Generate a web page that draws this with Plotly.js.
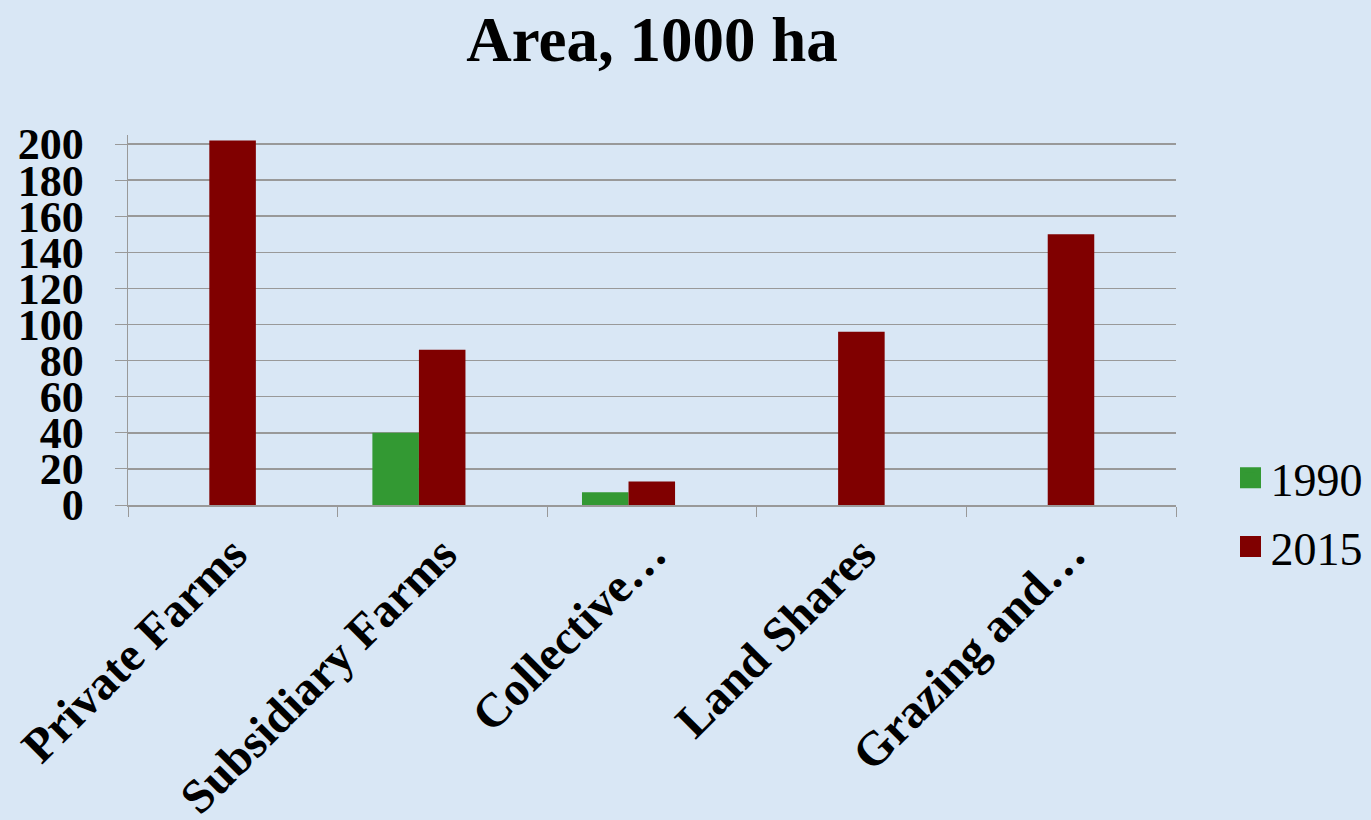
<!DOCTYPE html>
<html>
<head>
<meta charset="utf-8">
<script src="https://cdn.plot.ly/plotly-3.0.1.min.js"></script>
<style>
html,body{margin:0;padding:0;background:#d9e7f5;}
#chart{width:1371px;height:820px;}
</style>
</head>
<body>
<div id="chart"></div>
<script>
var categories = ["Private Farms", "Subsidiary Farms", "Collective\u2026", "Land Shares", "Grazing and\u2026"];
var values1990 = [0, 40, 7, 0, 0];
var values2015 = [202, 86, 13, 96, 150];
var seriesNames = ["1990", "2015"];
var seriesColors = ["#339933", "#800000"];
var yTicks = [0, 20, 40, 60, 80, 100, 120, 140, 160, 180, 200];

var serif = "Liberation Serif, Times New Roman, serif";
var barW = 0.222;

var traces = [
  {type: "bar", name: seriesNames[0], x: categories, y: values1990,
   width: barW, offset: -0.334,
   marker: {color: seriesColors[0]}, showlegend: false, hoverinfo: "x+y"},
  {type: "bar", name: seriesNames[1], x: categories, y: values2015,
   width: barW, offset: -0.112,
   marker: {color: seriesColors[1]}, showlegend: false, hoverinfo: "x+y"},
  {type: "scatter", mode: "markers", name: seriesNames[0], x: [null], y: [null],
   legendgroup: "a",
   marker: {symbol: "square", size: 16, color: seriesColors[0],
            line: {color: seriesColors[0], width: 6}}},
  {type: "scatter", mode: "markers", name: seriesNames[1], x: [null], y: [null],
   legendgroup: "b",
   marker: {symbol: "square", size: 16, color: seriesColors[1],
            line: {color: seriesColors[1], width: 6}}}
];

var layout = {
  width: 1371, height: 820,
  paper_bgcolor: "#d9e7f5",
  plot_bgcolor: "rgba(0,0,0,0)",
  margin: {l: 128, r: 195, t: 135, b: 315, autoexpand: false},
  barmode: "overlay",
  title: {text: "<b>Area, 1000 ha</b>", x: 0.5, xref: "paper", y: 0.952, yanchor: "middle",
          font: {family: serif, size: 63, color: "#000"}},
  xaxis: {type: "category", showline: true, linecolor: "#999", linewidth: 1.5,
          ticks: "outside", tickson: "boundaries", ticklen: 10, tickcolor: "#999",
          tickangle: -45, showgrid: false, automargin: false,
          tickfont: {family: serif, size: 48, color: "#000", weight: "bold"}},
  yaxis: {range: [0, 205], tickvals: yTicks, ticktext: yTicks.map(String),
          showline: true, linecolor: "#999", linewidth: 1.5,
          ticks: "outside", ticklen: 12, tickcolor: "#999",
          showgrid: true, gridcolor: "#999", gridwidth: 1.5, zeroline: false,
          ticklabelstandoff: 22, automargin: false,
          tickfont: {family: serif, size: 44, color: "#000", weight: "bold"}},
  legend: {x: 1.052, xanchor: "left", y: -0.02, yanchor: "middle",
           traceorder: "grouped", tracegroupgap: 6,
           font: {family: serif, size: 46, color: "#000"},
           bgcolor: "rgba(0,0,0,0)", itemwidth: 30},
  showlegend: true
};

Plotly.newPlot("chart", traces, layout, {displayModeBar: false, staticPlot: true});
</script>
</body>
</html>
